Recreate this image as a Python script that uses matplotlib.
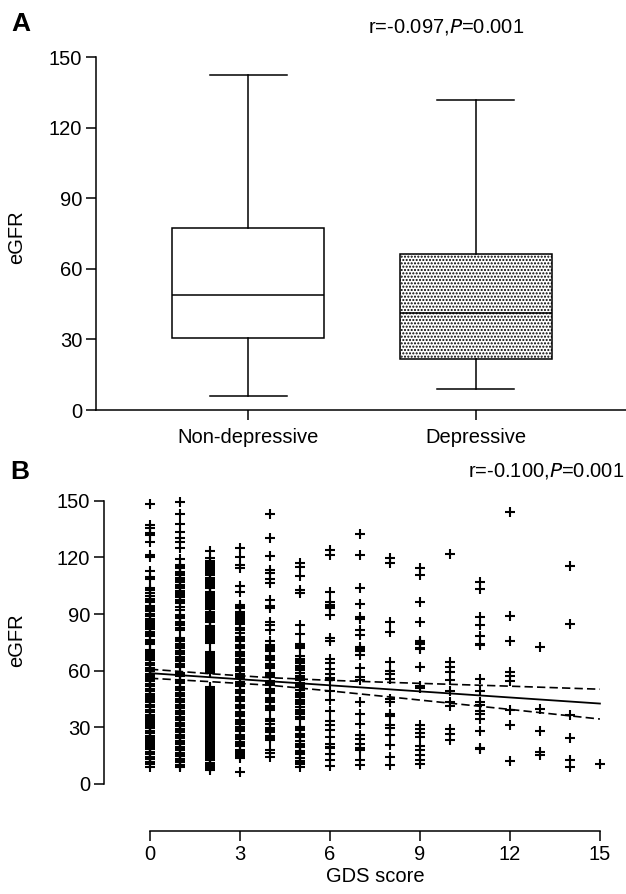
import numpy as np
import matplotlib
matplotlib.use("Agg")
import matplotlib.pyplot as plt

plt.rcParams['font.family'] = ['Liberation Sans', 'DejaVu Sans']
plt.rcParams['hatch.linewidth'] = 1.0

# panel A box stats (eGFR)
groups = ["Non-depressive", "Depressive"]
whis_lo = [6.0, 8.8]
q1 = [30.7, 21.5]
med = [48.9, 41.4]
q3 = [77.2, 66.3]
whis_hi = [142.2, 131.7]

# panel B eGFR by GDS score
gds0 = [148.5, 137.0, 135.5, 133.0, 132.0, 128.0, 121.5, 120.3, 113.0, 109.5, 108.5,
        104.0, 102.5, 101.0, 99.5, 98.0, 96.2, 94.5, 93.0, 91.5, 90.0, 88.8, 87.5, 86.0,
        84.6, 83.2, 82.0, 80.5, 78.5, 76.5, 74.0, 71.0, 69.6, 68.2, 67.0, 65.5, 64.0,
        62.8, 61.4, 60.0, 58.5, 57.2, 56.0, 54.5, 53.0, 51.8, 50.3, 49.0, 47.5, 46.2,
        44.8, 43.5, 42.0, 40.6, 39.2, 38.0, 36.5, 35.0, 33.8, 32.3, 31.0, 29.6, 28.2,
        27.0, 25.5, 24.0, 22.8, 21.4, 20.0, 18.6, 17.2, 16.0, 14.5, 13.0, 11.8, 10.5, 9.2,
        103.2, 97.2, 92.2, 87.0, 83.9, 79.5, 75.2, 70.3, 66.3, 63.5, 60.7, 57.8,
        55.2, 52.4, 49.6, 46.8, 44.1, 41.3, 38.6, 35.8, 33.1, 30.3, 27.6, 24.8,
        22.1, 19.3, 16.6, 13.8, 11.1]
gds1 = [149.5, 143.0, 137.8, 133.7, 130.2, 128.4, 124.9, 119.0, 116.0, 114.5, 112.5,
        110.8, 109.0, 107.2, 105.5, 103.8, 102.0, 100.3, 98.8, 97.5, 95.9, 94.0, 92.2,
        89.6, 87.8, 86.0, 84.2, 82.8, 81.6, 77.4, 75.5, 74.0, 72.2, 70.4, 68.6, 67.0,
        65.2, 63.6, 62.2, 58.8, 57.0, 55.2, 53.4, 51.6, 49.8, 48.2, 46.6, 45.0, 43.4,
        41.8, 40.2, 38.6, 37.0, 35.4, 33.8, 32.2, 30.6, 29.0, 27.4, 25.8, 24.2, 22.6,
        21.0, 19.4, 17.8, 16.2, 14.6, 13.0, 11.4, 10.2, 9.2,
        115.3, 111.7, 108.1, 104.6, 101.1, 96.7, 88.7, 85.1, 76.5, 73.1, 69.5,
        66.1, 62.9, 57.9, 54.3, 50.7, 47.4, 44.2, 41.0, 37.8, 34.6, 31.4, 28.2,
        25.0, 21.8, 18.6, 15.4, 12.2, 9.6]
gds2 = [123.6, 119.8, 118.0, 116.2, 114.4, 112.6, 110.8, 109.0, 107.2, 105.4, 103.6,
        101.8, 100.0, 98.2, 96.4, 94.6, 92.8, 91.0, 89.2, 87.4, 85.6, 83.8, 82.0, 80.2,
        78.4, 76.6, 74.7, 70.1, 68.4, 66.6, 64.8, 63.0, 61.2, 59.4, 58.7, 51.6, 50.0,
        48.3, 46.6, 44.9, 43.2, 41.5, 39.8, 38.1, 36.4, 34.7, 33.0, 31.3, 29.6, 27.9,
        26.2, 24.5, 22.8, 21.1, 19.4, 17.7, 16.0, 14.5, 11.1, 9.2, 7.4,
        117.1, 115.3, 111.7, 108.1, 104.5, 100.9, 97.3, 93.7, 90.1, 86.5, 82.9, 79.3,
        75.6, 69.2, 65.7, 62.1, 60.3, 50.8, 47.4, 45.7, 42.3, 38.9, 35.5, 32.1, 28.7,
        25.3, 21.9, 18.5, 15.2, 12.8, 10.2, 8.3,
        113.5, 106.3, 99.1, 95.5, 88.3, 81.1, 77.5, 67.5, 63.9, 49.2, 44.1, 40.6,
        37.2, 33.8, 30.4, 27.0, 23.6, 20.2, 16.8, 13.6]
gds3 = [124.9, 120.4, 116.0, 114.2, 104.9, 101.9, 95.0, 93.9, 93.0, 91.2, 89.0, 86.8,
        84.6, 82.4, 80.2, 78.0, 75.8, 73.6, 71.8, 70.0, 68.0, 66.0, 64.0, 62.0, 60.0,
        58.0, 56.0, 54.0, 52.0, 50.0, 48.0, 46.0, 44.0, 42.0, 40.0, 38.0, 36.0, 34.0,
        32.0, 30.0, 28.0, 26.0, 24.0, 22.0, 20.0, 18.0, 16.0, 13.5, 6.5,
        90.1, 87.9, 85.7, 81.3, 77.0, 72.7, 69.0, 65.0, 61.0, 57.0, 53.0, 49.0, 45.0,
        41.0, 37.0, 33.0, 29.0, 25.0, 21.0, 17.0, 14.8]
gds4 = [143.1, 130.2, 120.8, 113.4, 111.5, 108.5, 106.3, 97.4, 94.5, 93.4, 85.9, 84.0,
        81.5, 73.5, 75.8, 72.4, 70.2, 68.0, 65.8, 63.5, 61.2, 59.0, 56.8, 54.6, 52.4,
        50.2, 48.0, 45.8, 43.6, 41.4, 39.2, 34.2, 32.0, 29.8, 27.6, 25.4, 23.2, 18.2,
        16.4, 14.4, 71.3, 66.9, 62.3, 57.9, 53.5, 49.1, 44.7, 40.3, 33.1, 28.7, 24.3]
gds5 = [116.9, 115.1, 110.4, 102.7, 101.0, 84.2, 79.7, 73.5, 71.8, 74.0, 72.6, 67.9,
        66.0, 64.2, 62.4, 60.6, 58.8, 57.0, 55.2, 53.4, 51.6, 49.8, 48.0, 46.2, 44.4,
        42.6, 40.8, 39.0, 37.2, 35.4, 34.6, 30.2, 28.4, 26.6, 24.8, 23.0, 21.2, 19.4,
        17.6, 15.8, 14.0, 12.2, 10.6, 9.1, 65.1, 61.5, 56.1, 52.5, 47.1, 43.5, 38.1,
        29.3, 25.7, 20.3, 16.7, 11.3]
gds6 = [124.0, 121.3, 101.9, 96.5, 94.8, 93.8, 93.0, 89.5, 77.1, 75.8, 66.1, 63.9,
        60.9, 58.2, 56.0, 55.2, 49.5, 44.6, 38.6, 33.3, 31.1, 28.8, 24.9, 21.4, 19.8,
        18.9, 16.1, 12.6, 9.5]
gds7 = [132.3, 121.3, 104.0, 95.3, 88.6, 87.6, 81.5, 78.8, 71.4, 72.6, 70.5, 68.4,
        61.4, 56.8, 55.1, 43.3, 37.2, 31.9, 25.8, 24.0, 21.4, 19.3, 17.9, 12.6, 10.0]
gds8 = [119.6, 116.9, 85.9, 80.6, 64.4, 60.0, 58.2, 55.6, 45.1, 43.3, 37.2, 35.8,
        31.1, 29.8, 25.8, 20.5, 14.4, 10.0]
gds9 = [114.6, 110.7, 96.5, 85.9, 75.3, 71.8, 75.8, 74.0, 71.4, 62.1, 52.1, 50.9,
        31.1, 29.3, 27.0, 24.9, 20.0, 17.9, 15.3, 12.6, 10.5]
gds10 = [121.9, 64.4, 62.1, 59.1, 55.1, 49.5, 43.3, 41.1, 29.3, 26.7, 23.2]
gds11 = [106.8, 103.3, 88.2, 84.2, 78.5, 73.5, 74.0, 55.6, 49.1, 43.3, 41.6, 38.9,
         37.2, 34.6, 28.1, 19.1, 18.3]
gds12 = [144.0, 88.9, 75.7, 59.1, 57.4, 54.7, 39.3, 31.1, 12.1]
gds13 = [72.3, 39.8, 28.1, 17.0, 15.3]
gds14 = [115.5, 85.0, 36.8, 24.4, 12.6, 9.1]
gds15 = [10.5]
gds_cols = [gds0, gds1, gds2, gds3, gds4, gds5, gds6, gds7, gds8, gds9,
            gds10, gds11, gds12, gds13, gds14, gds15]

# regression line and 95% band
fit_x = [0, 15]
fit_y = [58.7, 42.6]
ci_x = [0, 2, 4, 6, 8, 10, 12, 15]
ci_hi = [60.8, 58.4, 56.3, 54.9, 53.8, 52.8, 51.8, 50.2]
ci_lo = [56.0, 54.2, 52.3, 49.3, 46.1, 42.8, 39.5, 34.4]

W, H = 626, 894
fig = plt.figure(figsize=(W / 100, H / 100), dpi=100)

fs = 14.5
lw = 1.1

# ---- panel A
axA = fig.add_axes([96 / W, 1 - 410 / H, 1 - 96 / W, (410 - 57) / H])
stats = []
for i in range(2):
    stats.append(dict(med=med[i], q1=q1[i], q3=q3[i], whislo=whis_lo[i], whishi=whis_hi[i],
                      fliers=[], label=groups[i]))
bp = axA.bxp(stats, positions=[1, 2], widths=0.668, patch_artist=True, showfliers=False,
             boxprops=dict(linewidth=lw, edgecolor='black'),
             medianprops=dict(color='black', linewidth=lw),
             whiskerprops=dict(color='black', linewidth=lw),
             capprops=dict(color='black', linewidth=lw),
             capwidths=0.34)
bp['boxes'][0].set_facecolor('white')
bp['boxes'][1].set_facecolor('white')
bp['boxes'][1].set_hatch('.....')
axA.set_xlim(0.331, 2.66)
axA.set_ylim(0, 150)
axA.set_yticks([0, 30, 60, 90, 120, 150])
axA.set_xticks([1, 2])
axA.set_xticklabels(groups)
for s in ['top', 'right']:
    axA.spines[s].set_visible(False)
for s in ['left', 'bottom']:
    axA.spines[s].set_linewidth(lw)
axA.spines['left'].set_bounds(0, 150)
axA.tick_params(length=7, width=lw, labelsize=fs, pad=3)
axA.tick_params(axis='x', pad=6)

# ---- panel B
axB = fig.add_axes([104 / W, 1 - 831 / H, 1 - 104 / W, (831 - 497) / H])
xs, ys = [], []
for g, col in enumerate(gds_cols):
    xs += [g] * len(col)
    ys += col
axB.plot(xs, ys, linestyle='none', marker='+', color='black', markersize=6.5, mew=1.5)
axB.plot(fit_x, fit_y, color='black', linewidth=1.3)
axB.plot(ci_x, ci_hi, color='black', linewidth=1.2, dashes=(5, 2.5))
axB.plot(ci_x, ci_lo, color='black', linewidth=1.2, dashes=(5, 2.5))
axB.set_xlim(-1.533, 15.87)
axB.set_ylim(-24.9, 152)
axB.set_yticks([0, 30, 60, 90, 120, 150])
axB.set_xticks([0, 3, 6, 9, 12, 15])
for s in ['top', 'right']:
    axB.spines[s].set_visible(False)
for s in ['left', 'bottom']:
    axB.spines[s].set_linewidth(lw)
axB.spines['left'].set_bounds(0, 150)
axB.spines['bottom'].set_bounds(0, 15)
axB.tick_params(length=7, width=lw, labelsize=fs, pad=3)

# labels and annotations
fig.text(11 / W, 1 - 24 / H, "A", fontsize=19, fontweight='bold', va='center', ha='left')
fig.text(10 / W, 1 - 472 / H, "B", fontsize=19, fontweight='bold', va='center', ha='left')
fig.text(446 / W, 1 - 27 / H, r"r=-0.097,$\it{P}$=0.001", fontsize=fs, va='center', ha='center')
fig.text(624 / W, 1 - 471 / H, r"r=-0.100,$\it{P}$=0.001", fontsize=fs, va='center', ha='right')
fig.text(17 / W, 1 - 237 / H, "eGFR", fontsize=fs, rotation=90, va='center', ha='center')
fig.text(17 / W, 1 - 640 / H, "eGFR", fontsize=fs, rotation=90, va='center', ha='center')
fig.text(375 / W, 1 - 877 / H, "GDS score", fontsize=fs, va='center', ha='center')

fig.savefig("out.png", dpi=100)
